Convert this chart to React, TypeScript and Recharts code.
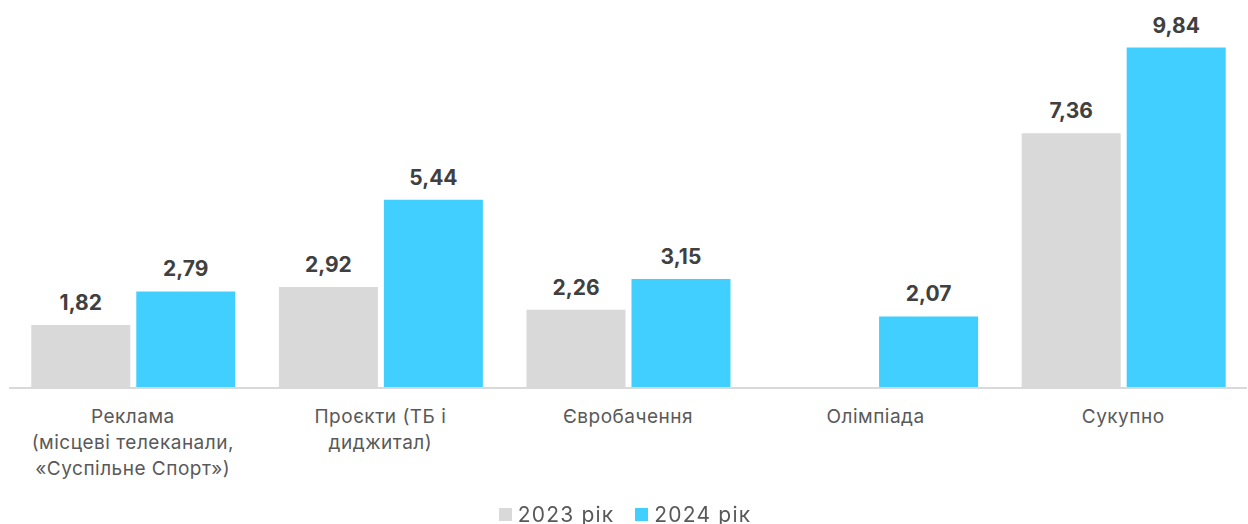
import { BarChart, Bar, XAxis, YAxis, LabelList, Legend } from "recharts";

const categories = ["Реклама", "Проєкти", "Євробачення", "Олімпіада", "Сукупно"];
const tickLines = [
  ["Реклама", "(місцеві  телеканали,", "«Суспільне  Спорт»)"],
  ["Проєкти (ТБ і", "диджитал)"],
  ["Євробачення"],
  ["Олімпіада"],
  ["Сукупно"],
];
const values2023 = [1.82, 2.92, 2.26, null, 7.36];
const values2024 = [2.79, 5.44, 3.15, 2.07, 9.84];

const GRAY = "#D9D9D9";
const BLUE = "#40CFFF";
const FONT = "Inter, 'Noto Sans', sans-serif";

const data = categories.map((c, i) => ({
  name: c,
  idx: i,
  y2023: values2023[i],
  y2024: values2024[i],
}));

const fmt = (v: any) => (v == null ? "" : Number(v).toFixed(2).replace(".", ","));

const Tick = (props: any) => {
  const { x, y, payload } = props;
  const lines = tickLines[payload.index] || [payload.value];
  return (
    <text
      x={x}
      y={y + 27}
      textAnchor="middle"
      fill="#595959"
      fontSize={19}
      fontFamily={FONT}
      letterSpacing={0.5}
    >
      {lines.map((l: string, i: number) => (
        <tspan key={i} x={x} dy={i === 0 ? 0 : 26}>
          {l}
        </tspan>
      ))}
    </text>
  );
};

const LegendContent = () => (
  <div
    style={{
      display: "flex",
      justifyContent: "center",
      alignItems: "center",
      gap: 21,
      fontFamily: FONT,
      fontSize: 21,
      letterSpacing: 1.2,
      color: "#595959",
      paddingTop: 8,
      paddingRight: 6,
    }}
  >
    {[
      { label: "2023 рік", color: GRAY },
      { label: "2024 рік", color: BLUE },
    ].map((it) => (
      <div key={it.label} style={{ display: "flex", alignItems: "center" }}>
        <span style={{ width: 13, height: 13, background: it.color, marginRight: 6, display: "inline-block" }} />
        <span>{it.label}</span>
      </div>
    ))}
  </div>
);

export default function App() {
  return (
    <div style={{ position: "fixed", top: 0, left: 0, background: "#fff" }}>
      <BarChart
        width={1248}
        height={524}
        data={data}
        margin={{ top: 42, right: 1, left: 9, bottom: 0 }}
        barCategoryGap="9%"
        barGap={6}
      >
        <YAxis hide domain={[0, 10]} />
        <XAxis
          dataKey="name"
          height={106}
          tickLine={false}
          axisLine={{ stroke: GRAY, strokeWidth: 2 }}
          tick={<Tick />}
          interval={0}
        />
        <Legend
          verticalAlign="bottom"
          wrapperStyle={{ height: 30 }}
          content={<LegendContent />}
        />
        <Bar dataKey="y2023" fill={GRAY} isAnimationActive={false}>
          <LabelList
            dataKey="y2023"
            position="top"
            offset={15}
            formatter={fmt}
            fill="#404040"
            fontSize={21}
            fontWeight={700}
            fontFamily={FONT}
          />
        </Bar>
        <Bar dataKey="y2024" fill={BLUE} isAnimationActive={false}>
          <LabelList
            dataKey="y2024"
            position="top"
            offset={15}
            formatter={fmt}
            fill="#404040"
            fontSize={21}
            fontWeight={700}
            fontFamily={FONT}
          />
        </Bar>
      </BarChart>
    </div>
  );
}
